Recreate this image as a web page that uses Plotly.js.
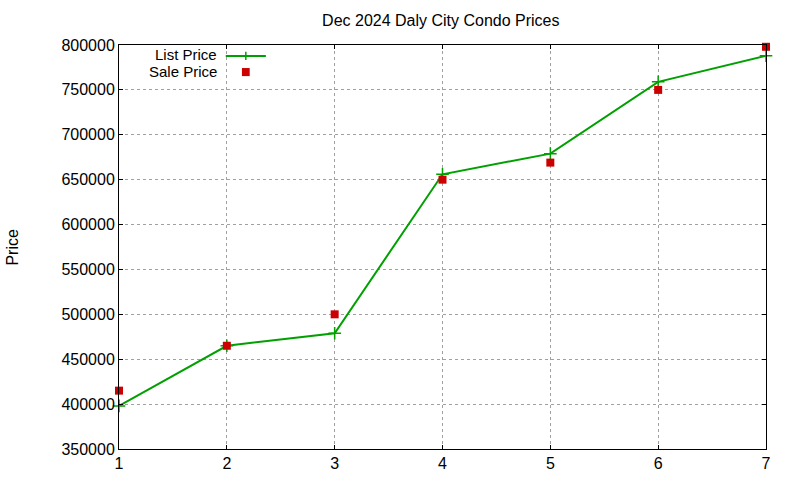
<!DOCTYPE html>
<html>
<head>
<meta charset="utf-8">
<script src="https://cdn.plot.ly/plotly-3.0.1.min.js"></script>
<style>
    html, body { margin: 0; padding: 0; background: #fff; }
    #chart { width: 800px; height: 480px; }
</style>
</head>
<body>
<div id="chart"></div>
<script>
const months = [1, 2, 3, 4, 5, 6, 7];
const listPrice = [398000, 465000, 479000, 656000, 679000, 759000, 788000];
const salePrice = [415000, 465000, 500000, 650000, 669000, 750000, 798000];
const yTicks = [350000, 400000, 450000, 500000, 550000, 600000, 650000, 700000, 750000, 800000];

const GREEN = "#00a000";
const RED = "#cc0000";
const FONT = "Liberation Sans, Arial, sans-serif";

const data = [
    {
        x: months,
        y: listPrice,
        name: "List Price",
        type: "scatter",
        mode: "lines+markers",
        line: { color: GREEN, width: 2 },
        marker: { symbol: "cross-thin", size: 9, line: { color: GREEN, width: 1.5 } },
        cliponaxis: false
    },
    {
        x: months,
        y: salePrice,
        name: "Sale Price",
        type: "scatter",
        mode: "markers",
        marker: { symbol: "square", size: 8, color: RED },
        cliponaxis: false
    }
];

const axisCommon = {
    showline: true,
    linecolor: "#000",
    linewidth: 1,
    mirror: "ticks",
    ticks: "inside",
    ticklen: 4,
    tickcolor: "#000",
    showgrid: true,
    gridcolor: "#a0a0a0",
    griddash: "dot",
    gridwidth: 1,
    zeroline: false,
    tickfont: { family: FONT, size: 16, color: "#000" }
};

// legend drawn by hand so the sample sits right of the text, gnuplot style
const legendShapes = [
    { type: "line", xref: "paper", yref: "paper", x0: 0.165, x1: 0.227, y0: 0.973, y1: 0.973,
      line: { color: GREEN, width: 2 } },
    { type: "line", xref: "paper", yref: "paper", x0: 0.196, x1: 0.196, y0: 0.963, y1: 0.983,
      line: { color: GREEN, width: 1.5 } },
    { type: "rect", xref: "paper", yref: "paper", x0: 0.190, x1: 0.202, y0: 0.923, y1: 0.943,
      fillcolor: RED, line: { width: 0 } }
];

function legendLabel(text, y) {
    return {
        text: text, xref: "paper", yref: "paper", x: 0.1525, y: y,
        showarrow: false, xanchor: "right", yanchor: "middle", borderpad: 0,
        font: { family: FONT, size: 15, color: "#000" }
    };
}

const layout = {
    width: 800,
    height: 480,
    margin: { l: 119, r: 34, t: 45, b: 31 },
    paper_bgcolor: "#fff",
    plot_bgcolor: "#fff",
    showlegend: false,
    font: { family: FONT, color: "#000" },
    title: {
        text: "Dec 2024 Daly City Condo Prices",
        font: { family: FONT, size: 16, color: "#000" },
        x: 0.551,
        xanchor: "center",
        y: 0.958,
        yanchor: "middle"
    },
    xaxis: {
        ...axisCommon,
        range: [1, 7],
        tickvals: months,
        ticktext: months.map(String)
    },
    yaxis: {
        ...axisCommon,
        range: [350000, 800000],
        tickvals: yTicks,
        ticktext: yTicks.map(String)
    },
    shapes: legendShapes,
    annotations: [
        { text: "Price", xref: "paper", yref: "paper", x: -0.166, y: 0.5, textangle: -90,
          showarrow: false, xanchor: "center", yanchor: "middle",
          font: { family: FONT, size: 16, color: "#000" } },
        legendLabel("List Price", 0.9765),
        legendLabel("Sale Price", 0.9335)
    ]
};

Plotly.newPlot("chart", data, layout, { staticPlot: true, displayModeBar: false });
</script>
</body>
</html>
